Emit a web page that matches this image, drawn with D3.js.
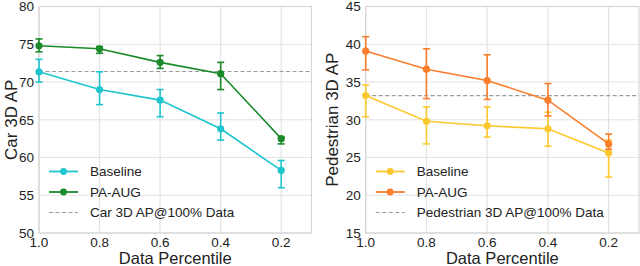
<!DOCTYPE html>
<html><head><meta charset="utf-8">
<script src="https://cdn.jsdelivr.net/npm/d3@7"></script>
<style>
body{margin:0;background:#fff;}
svg text{font-family:"Liberation Sans",Arial,sans-serif;fill:#222;}
</style></head>
<body><svg id="c" width="640" height="266"></svg>
<script>
const percentiles = [1.0, 0.8, 0.6, 0.4, 0.2];
const xTicks = [1.0, 0.8, 0.6, 0.4, 0.2];

const carBaseline = [71.35, 69.0, 67.6, 63.8, 58.3];
const carBaselineLo = [70.0, 67.0, 65.4, 62.3, 56.0];
const carBaselineHi = [73.0, 71.35, 69.0, 65.9, 59.6];
const carAug = [74.8, 74.4, 72.6, 71.1, 62.5];
const carAugLo = [74.0, 73.8, 71.8, 69.0, 61.8];
const carAugHi = [75.7, 74.7, 73.5, 72.6, 62.7];
const carRef = 71.4;
const carYTicks = [50, 55, 60, 65, 70, 75, 80];

const pedBaseline = [33.2, 29.8, 29.2, 28.8, 25.6];
const pedBaselineLo = [30.4, 26.8, 27.7, 26.5, 22.4];
const pedBaselineHi = [34.6, 31.7, 31.7, 31.0, 27.3];
const pedAug = [39.1, 36.7, 35.2, 32.6, 26.8];
const pedAugLo = [36.6, 32.8, 32.7, 30.5, 26.1];
const pedAugHi = [41.0, 39.4, 38.6, 34.8, 28.1];
const pedRef = 33.2;
const pedYTicks = [15, 20, 25, 30, 35, 40, 45];

const svg = d3.select("#c");

function panel(opt){
  const g = svg.append("g");
  const x = d3.scaleLinear().domain([1.0, 0.1]).range([opt.left, opt.right]);
  const y = d3.scaleLinear().domain(opt.yDomain).range([233, 6.5]);
  const grid = "#e3e3e3";
  // gridlines
  g.selectAll(".gy").data(opt.yTicks).enter().append("line")
    .attr("x1", opt.left).attr("x2", opt.right)
    .attr("y1", d=>y(d)).attr("y2", d=>y(d))
    .attr("stroke", grid).attr("stroke-width", 1.2);
  g.selectAll(".gx").data(xTicks).enter().append("line")
    .attr("x1", d=>x(d)).attr("x2", d=>x(d))
    .attr("y1", y(opt.yDomain[0])).attr("y2", y(opt.yDomain[1]))
    .attr("stroke", grid).attr("stroke-width", 1.2);
  // spines
  g.append("rect").attr("x", opt.left).attr("y", y(opt.yDomain[1]))
    .attr("width", opt.right-opt.left).attr("height", y(opt.yDomain[0])-y(opt.yDomain[1]))
    .attr("fill","none").attr("stroke","#d6d6d6").attr("stroke-width",1.2);
  // ticks labels
  g.selectAll(".ty").data(opt.yTicks).enter().append("text")
    .attr("x", opt.left-5).attr("y", d=>y(d)).attr("dy","0.36em")
    .attr("text-anchor","end").attr("font-size",13.5).text(d=>d);
  g.selectAll(".tx").data(xTicks).enter().append("text")
    .attr("x", d=>x(d)).attr("y", 247)
    .attr("text-anchor","middle").attr("font-size",13.5).text(d=>d.toFixed(1));
  // axis labels
  g.append("text").attr("x",(opt.left+opt.right)/2).attr("y",263.5)
    .attr("text-anchor","middle").attr("font-size",16.5).text("Data Percentile");
  g.append("text").attr("transform",`translate(${opt.labelX},${(y(opt.yDomain[0])+y(opt.yDomain[1]))/2}) rotate(-90)`)
    .attr("text-anchor","middle").attr("dy","0.36em").attr("font-size",17).text(opt.yLabel);
  // reference line
  g.append("line").attr("x1",opt.left).attr("x2",opt.right)
    .attr("y1",y(opt.ref)).attr("y2",y(opt.ref))
    .attr("stroke","#9a9a9a").attr("stroke-width",1.1).attr("stroke-dasharray","4,2.5");
  const line = d3.line().x((d,i)=>x(percentiles[i])).y(d=>y(d));
  opt.series.forEach(s=>{
    const sg = g.append("g");
    sg.append("path").datum(s.vals).attr("d",line).attr("fill","none")
      .attr("stroke",s.color).attr("stroke-width",1.6);
    percentiles.forEach((p,i)=>{
      const cx = x(p);
      sg.append("line").attr("x1",cx).attr("x2",cx).attr("y1",y(s.lo[i])).attr("y2",y(s.hi[i]))
        .attr("stroke",s.color).attr("stroke-width",1.6);
      [s.lo[i], s.hi[i]].forEach(v=>{
        sg.append("line").attr("x1",cx-3.5).attr("x2",cx+3.5).attr("y1",y(v)).attr("y2",y(v))
          .attr("stroke",s.color).attr("stroke-width",1.6);
      });
      sg.append("circle").attr("cx",cx).attr("cy",y(s.vals[i])).attr("r",3.6).attr("fill",s.color);
    });
  });
  // legend
  const lx0 = opt.left+10, lx1 = opt.left+39, tx = opt.left+51;
  const rows = [171.5, 192, 212.5];
  opt.series.forEach((s,k)=>{
    g.append("line").attr("x1",lx0).attr("x2",lx1).attr("y1",rows[k]).attr("y2",rows[k])
      .attr("stroke",s.color).attr("stroke-width",1.8);
    g.append("circle").attr("cx",(lx0+lx1)/2).attr("cy",rows[k]).attr("r",3.4).attr("fill",s.color);
    g.append("text").attr("x",tx).attr("y",rows[k]).attr("dy","0.36em").attr("font-size",13.5).text(s.name);
  });
  g.append("line").attr("x1",lx0).attr("x2",lx1).attr("y1",rows[2]).attr("y2",rows[2])
    .attr("stroke","#9a9a9a").attr("stroke-width",1.1).attr("stroke-dasharray","4,2.5");
  g.append("text").attr("x",tx).attr("y",rows[2]).attr("dy","0.36em").attr("font-size",13.5).text(opt.refLabel);
}

panel({left:39, right:311.5, yDomain:[50,80], yTicks:carYTicks, yLabel:"Car 3D AP", labelX:11,
  ref:carRef, refLabel:"Car 3D AP@100% Data",
  series:[
    {name:"Baseline", color:"#1ec5cd", vals:carBaseline, lo:carBaselineLo, hi:carBaselineHi},
    {name:"PA-AUG", color:"#1a8a2a", vals:carAug, lo:carAugLo, hi:carAugHi}
  ]});
panel({left:365.7, right:639, yDomain:[15,45], yTicks:pedYTicks, yLabel:"Pedestrian 3D AP", labelX:332,
  ref:pedRef, refLabel:"Pedestrian 3D AP@100% Data",
  series:[
    {name:"Baseline", color:"#fdc82f", vals:pedBaseline, lo:pedBaselineLo, hi:pedBaselineHi},
    {name:"PA-AUG", color:"#fb7d2c", vals:pedAug, lo:pedAugLo, hi:pedAugHi}
  ]});
</script></body></html>
